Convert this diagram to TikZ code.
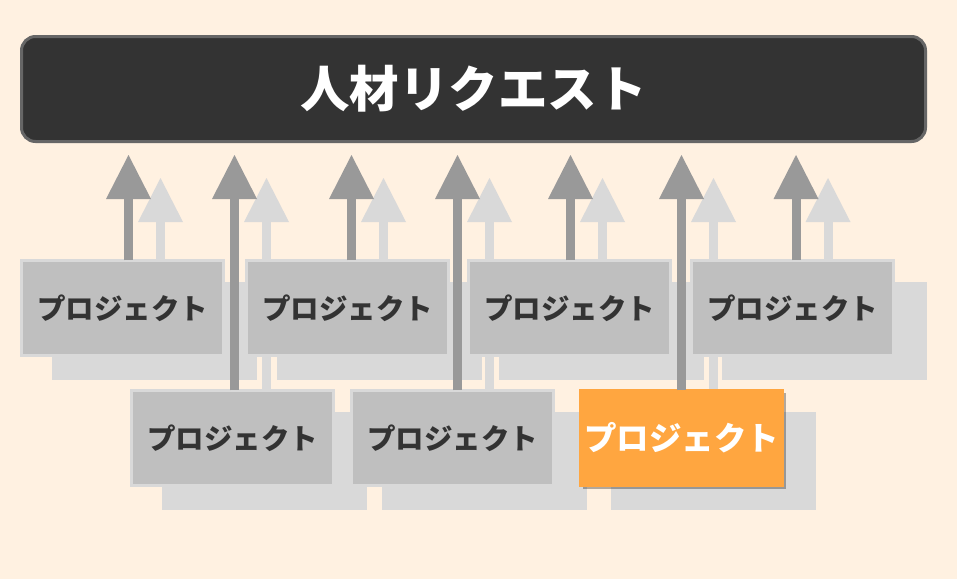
\documentclass[tikz,border=0pt]{standalone}
\usepackage{fontspec}
\newfontfamily\cjk{Noto Sans CJK JP}
\usetikzlibrary{arrows.meta,shadows}
\definecolor{creme}{HTML}{FFF1E1}
\definecolor{titulo}{HTML}{333333}
\definecolor{borda}{HTML}{666666}
\definecolor{cinzaclaro}{HTML}{D9D9D9}
\definecolor{cinzamedio}{HTML}{BFBFBF}
\definecolor{cinzaescuro}{HTML}{999999}
\definecolor{laranja}{HTML}{FFA640}
\tikzset{
  faixa/.style={draw=borda, fill=titulo, line width=3pt, rounded corners=14pt,
    minimum width=904pt, minimum height=105pt, text=white,
    font=\cjk\bfseries\fontsize{49.5}{54}\selectfont},
  projeto/.style={draw=cinzaclaro, fill=cinzamedio, line width=2.6pt,
    minimum width=202.4pt, minimum height=95.4pt, inner sep=0pt, outer sep=0pt,
    anchor=north west, text=titulo, font=\cjk\bfseries\fontsize{28.5}{31}\selectfont},
  destaque/.style={projeto, draw=laranja, fill=laranja, text=white,
    font=\cjk\bfseries\fontsize{32.5}{35}\selectfont,
    drop shadow={shadow xshift=3pt, shadow yshift=-3pt, opacity=.3, fill=black}},
  sombra/.style={fill=cinzaclaro, minimum width=205pt, minimum height=98pt,
    inner sep=0pt, outer sep=0pt, anchor=north west},
  seta/.style={draw=cinzaescuro, line width=9pt,
    -{Triangle[width=45pt,length=44pt,line width=0pt]}},
  setasombra/.style={seta, draw=cinzaclaro}
}
\begin{document}
\begin{tikzpicture}[yscale=-1, x=1pt, y=1pt]
  \fill[creme] (0,0) rectangle (957,579);
  \node[faixa] (pedidos) at (473.5,89) {人材リクエスト};
  \foreach \n/\x/\a/\y in {a/20/128.5/259, b/245/351.5/259, c/467/570.5/259, d/690/796/259,
      e/130/234.5/389, f/350/457.5/389, g/579/681.5/389}{
    \node[sombra] (s\n) at (\x+32,\y+23) {};
    \coordinate (q\n) at (\a+32,178);
    \draw[setasombra] (q\n |- s\n.north) -- (q\n);
  }
  \foreach \n/\x/\a/\y/\e in {a/20/128.5/259/projeto, b/245/351.5/259/projeto,
      c/467/570.5/259/projeto, d/690/796/259/projeto, e/130/234.5/389/projeto,
      f/350/457.5/389/projeto, g/579/681.5/389/destaque}{
    \node[\e] (p\n) at (\x+1.3,\y+1.3) {プロジェクト};
    \coordinate (t\n) at (\a,155);
    \draw[seta] (t\n |- p\n.north) -- (t\n);
  }
\end{tikzpicture}
\end{document}
